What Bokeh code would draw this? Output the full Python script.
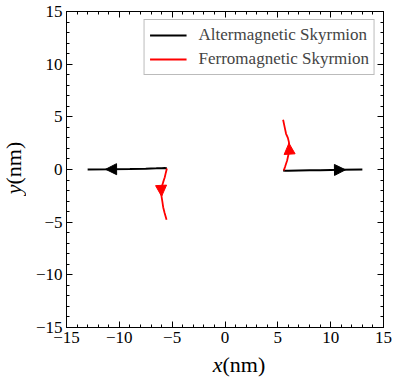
import math
from bokeh.plotting import figure
from bokeh.layouts import row, column
from bokeh.models import (Range1d, FixedTicker, LinearAxis, CustomJSTickFormatter,
                          Label, Arrow, NormalHead, Legend, LegendItem)
from bokeh.embed import file_html
from bokeh.resources import INLINE

# ---- data ----
alt_left_x = [-13.0, -11.0, -9.0, -7.5, -6.5, -6.0, -5.7, -5.5]
alt_left_y = [0.0, 0.02, 0.05, 0.08, 0.11, 0.13, 0.14, 0.1]
fer_left_x = [-5.5, -5.6, -5.7, -5.85, -5.97, -6.04, -6.0, -5.92, -5.85, -5.72, -5.53]
fer_left_y = [0.1, -0.3, -0.73, -1.2, -1.6, -2.0, -2.6, -3.1, -3.58, -4.1, -4.78]

alt_right_x = [5.5, 5.7, 6.0, 7.0, 8.0, 9.0, 10.0, 11.0, 13.0]
alt_right_y = [-0.1, -0.12, -0.12, -0.1, -0.08, -0.06, -0.04, -0.03, 0.0]
fer_right_x = [5.56, 5.7, 5.88, 6.0, 6.1, 6.05, 5.95, 5.78, 5.65, 5.5]
fer_right_y = [-0.09, 0.3, 0.85, 1.4, 2.1, 2.6, 3.0, 3.39, 4.0, 4.72]

# arrow heads (start -> tip)
arr_black_x0 = [-10.3, 10.4]
arr_black_y0 = [0.03, -0.04]
arr_black_x1 = [-11.3, 11.4]
arr_black_y1 = [0.02, -0.03]
arr_red_x0 = [-6.04, 6.1]
arr_red_y0 = [-1.7, 1.7]
arr_red_x1 = [-6.0, 6.05]
arr_red_y1 = [-2.55, 2.5]

major_ticks = [-15, -10, -5, 0, 5, 10, 15]
minor_ticks = list(range(-15, 16))

legend_labels = ["Altermagnetic Skyrmion", "Ferromagnetic Skyrmion"]

FONT = "Liberation Serif"

# layout sizes (px)
YLAB_W = 26
MAIN_W = 397 - YLAB_W
MAIN_H = 352
XLAB_H = 380 - MAIN_H

p = figure(width=MAIN_W, height=MAIN_H, output_backend="svg", toolbar_location=None,
           x_range=Range1d(-15, 15), y_range=Range1d(-15, 15),
           x_axis_location=None, y_axis_location=None,
           min_border_left=66 - YLAB_W, min_border_right=14, min_border_top=11,
           min_border_bottom=MAIN_H - 327)
p.grid.visible = False
p.outline_line_color = "black"
p.background_fill_color = "white"
p.border_fill_color = "white"

fmt = CustomJSTickFormatter(code="return tick < 0 ? '\u2212' + Math.abs(tick) : String(tick);")
blank_fmt = CustomJSTickFormatter(code="return '';")

def make_axis(show_labels):
    ax = LinearAxis(ticker=FixedTicker(ticks=major_ticks, minor_ticks=minor_ticks),
                    formatter=fmt if show_labels else blank_fmt)
    ax.major_tick_in = 6
    ax.major_tick_out = 0
    ax.minor_tick_in = 3
    ax.minor_tick_out = 0
    ax.axis_line_color = "black"
    ax.major_tick_line_color = "black"
    ax.minor_tick_line_color = "black"
    ax.major_label_text_font = FONT
    ax.major_label_text_color = "black"
    if show_labels:
        ax.major_label_text_font_size = "17px"
        ax.major_label_standoff = 4
    else:
        ax.major_label_text_font_size = "1px"
        ax.major_label_standoff = 0
    return ax

p.add_layout(make_axis(True), "below")
p.add_layout(make_axis(True), "left")
p.add_layout(make_axis(False), "above")
p.add_layout(make_axis(False), "right")

r_alt = p.line(alt_left_x, alt_left_y, line_color="black", line_width=2)
p.line(alt_right_x, alt_right_y, line_color="black", line_width=2)
r_fer = p.line(fer_left_x, fer_left_y, line_color="red", line_width=1.8)
p.line(fer_right_x, fer_right_y, line_color="red", line_width=1.8)

for i in range(len(arr_black_x0)):
    p.add_layout(Arrow(x_start=arr_black_x0[i], y_start=arr_black_y0[i],
                       x_end=arr_black_x1[i], y_end=arr_black_y1[i],
                       line_alpha=0,
                       end=NormalHead(size=11, fill_color="black", line_color="black", line_width=1)))
for i in range(len(arr_red_x0)):
    p.add_layout(Arrow(x_start=arr_red_x0[i], y_start=arr_red_y0[i],
                       x_end=arr_red_x1[i], y_end=arr_red_y1[i],
                       line_alpha=0,
                       end=NormalHead(size=11, fill_color="red", line_color="red", line_width=1)))

legend = Legend(items=[LegendItem(label=legend_labels[0], renderers=[r_alt]),
                       LegendItem(label=legend_labels[1], renderers=[r_fer])],
                location="top_right", margin=8, padding=5, spacing=4,
                label_text_font=FONT, label_text_font_size="17px",
                label_height=20, glyph_height=20, glyph_width=37, label_standoff=12,
                border_line_color="#777777", border_line_width=1.5,
                background_fill_alpha=1.0)
p.add_layout(legend)

# ---- axis title strips (own small figures, pixel ranges) ----
def strip(w, h):
    f = figure(width=w, height=h, output_backend="svg", toolbar_location=None,
               x_range=Range1d(0, w), y_range=Range1d(0, h),
               x_axis_location=None, y_axis_location=None,
               min_border=0, min_border_left=0, min_border_right=0,
               min_border_top=0, min_border_bottom=0)
    f.grid.visible = False
    f.outline_line_color = None
    f.background_fill_color = "white"
    f.border_fill_color = "white"
    return f

xlab = strip(MAIN_W, XLAB_H)
x_split = 224.5 - YLAB_W - 16
x_mid_y = XLAB_H - 12
xlab.add_layout(Label(x=x_split, y=x_mid_y, text="x", text_align="right",
                      text_baseline="middle", text_font=FONT, text_font_style="italic",
                      text_font_size="22px", text_color="black"))
xlab.add_layout(Label(x=x_split, y=x_mid_y, text="(nm)", text_align="left",
                      text_baseline="middle", text_font=FONT, text_font_size="22px",
                      text_color="black"))

ylab = strip(YLAB_W, 380)
y_split = 380 - 184
ylab.add_layout(Label(x=13, y=y_split, text="y", text_align="right",
                      text_baseline="middle", angle=math.pi / 2, text_font=FONT,
                      text_font_style="italic", text_font_size="22px", text_color="black"))
ylab.add_layout(Label(x=13, y=y_split, text="(nm)", text_align="left",
                      text_baseline="middle", angle=math.pi / 2, text_font=FONT,
                      text_font_size="22px", text_color="black"))

layout = row(ylab, column(p, xlab, spacing=0), spacing=0)

open("out.html", "w").write(file_html(layout, INLINE))
